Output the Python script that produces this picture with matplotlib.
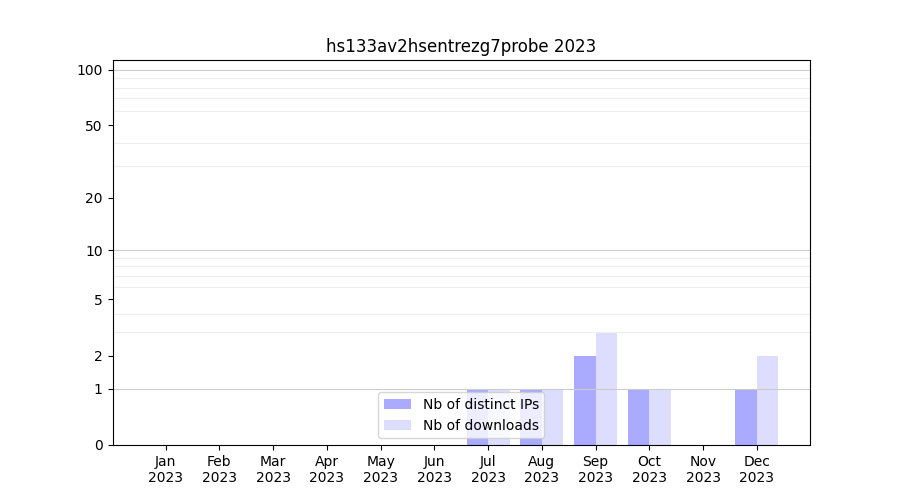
import numpy as np
from matplotlib import pyplot as plt

title = "hs133av2hsentrezg7probe 2023"
months = ["Jan", "Feb", "Mar", "Apr", "May", "Jun", "Jul", "Aug", "Sep", "Oct", "Nov", "Dec"]
year = "2023"
distinctIPs = [0, 0, 0, 0, 0, 0, 1, 1, 2, 1, 0, 1]
downloads = [0, 0, 0, 0, 0, 0, 1, 1, 3, 1, 0, 2]
yticks = [0, 1, 2, 5, 10, 20, 50, 100]
decades = [1, 10, 100]


def fwd(v):
    return np.log10(1 + np.maximum(v, 0))


def inv(v):
    return 10 ** v - 1


fig, ax = plt.subplots(figsize=(9, 5), dpi=100)
x = np.arange(len(months))
ax.bar(x - 0.4, distinctIPs, width=0.4, align="edge", color="#aaaaff", label="Nb of distinct IPs", zorder=1)
ax.bar(x, downloads, width=0.4, align="edge", color="#ddddff", label="Nb of downloads", zorder=1)

ax.set_yscale("function", functions=(fwd, inv))
ax.set_ylim(0, 113)
ax.set_yticks(yticks)
ax.set_yticklabels([str(t) for t in yticks])
minor = [d * k for d in decades[:-1] for k in range(2, 10)]
ax.set_yticks(minor, minor=True)
ax.tick_params(axis="y", which="minor", length=0)
ax.set_axisbelow(False)
ax.grid(axis="y", which="minor", color="#eeeeee", linewidth=0.8)
for d in decades:
    ax.axhline(d, color="#cccccc", linewidth=0.8, zorder=2.6)
for s in ax.spines.values():
    s.set_zorder(3)

ax.set_xticks(x)
ax.set_xticklabels([f"{m}\n{year}" for m in months])
ax.set_title(title)
ax.legend(loc="lower center")

plt.savefig("out.png")
